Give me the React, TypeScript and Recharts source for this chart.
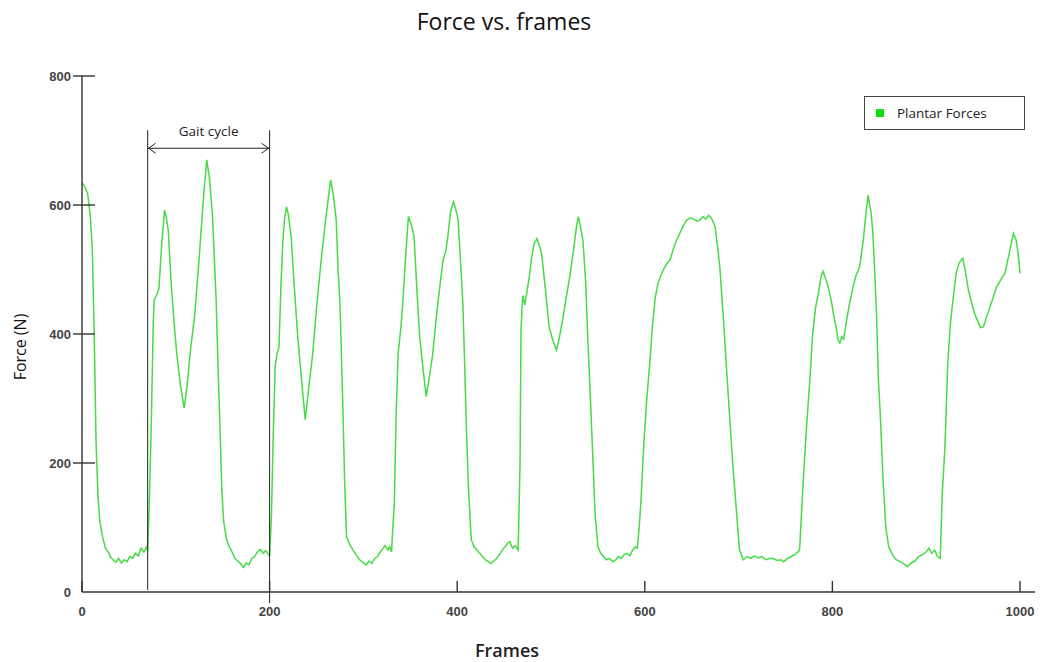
import { LineChart, Line, XAxis, YAxis, ReferenceLine, Legend } from "recharts";

const xTicks = [0, 200, 400, 600, 800, 1000];
const yTicks = [0, 200, 400, 600, 800];

// [frame, force], one list per stride
const stride0: [number, number][] = [
  [0, 635], [3, 628], [6, 618], [9, 580], [11, 530], [13, 400], [15, 230], [17, 150], [19, 110],
  [22, 85], [25, 68], [28, 62], [30, 55], [33, 50], [36, 46], [39, 52], [42, 45], [45, 50], [48, 47],
  [51, 55], [54, 52], [57, 60], [60, 56], [63, 68], [66, 62], [69, 70], [70, 64],
];
const stride1: [number, number][] = [
  [72, 150], [74, 272], [76, 420], [77, 453], [80, 462], [82, 470], [85, 540], [88, 592], [90, 580],
  [92, 560], [95, 480], [98, 420], [101, 370], [105, 320], [109, 285], [112, 320], [116, 380], [120, 427],
  [124, 500], [127, 560], [130, 620], [133, 670], [136, 640], [139, 585], [141, 520], [143, 453], [145, 350],
  [147, 260], [149, 160], [151, 110], [154, 82], [157, 70], [160, 62], [163, 52], [166, 48], [169, 44],
  [172, 38], [175, 45], [178, 42], [181, 52], [184, 55], [187, 62], [190, 66], [193, 60], [196, 64],
  [199, 58], [200, 55],
];
const stride2: [number, number][] = [
  [202, 120], [204, 250], [206, 350], [208, 370], [210, 380], [212, 470], [214, 541], [216, 580], [218, 597],
  [220, 585], [223, 551], [226, 480], [230, 396], [234, 330], [238, 267], [242, 320], [246, 370], [250, 440],
  [255, 515], [260, 580], [265, 639], [268, 615], [271, 577], [273, 500], [275, 448], [278, 293], [280, 170],
  [282, 86], [285, 75], [289, 65], [292, 58], [296, 50], [300, 45], [303, 42], [306, 48], [309, 44],
  [312, 52], [315, 55], [318, 62], [321, 68], [323, 72], [326, 65], [328, 70], [330, 62],
];
const stride3: [number, number][] = [
  [331, 90], [333, 138], [335, 280], [337, 370], [340, 410], [342, 448], [345, 520], [348, 582], [351, 570],
  [354, 551], [357, 470], [360, 396], [364, 340], [367, 303], [370, 330], [374, 370], [378, 430], [382, 480],
  [385, 515], [388, 530], [390, 551], [393, 590], [396, 605], [399, 590], [401, 577], [404, 500], [406, 448],
  [408, 350], [410, 246], [412, 160], [415, 81], [418, 70], [421, 65], [424, 60], [427, 55], [430, 50],
  [433, 47], [436, 44], [439, 48], [442, 52], [445, 58], [448, 65], [451, 70], [454, 76], [456, 78],
  [459, 68], [462, 72], [465, 65],
];
const stride4: [number, number][] = [
  [467, 200], [468, 401], [469, 440], [470, 460], [472, 445], [474, 462], [477, 490], [479, 515], [482, 540],
  [485, 548], [488, 535], [490, 525], [494, 470], [498, 411], [502, 390], [506, 375], [509, 395], [513, 427],
  [516, 455], [520, 489], [524, 530], [527, 565], [529, 582], [531, 570], [534, 546], [537, 480], [539, 401],
  [542, 300], [545, 194], [547, 120], [550, 70], [553, 60], [556, 55], [559, 50], [562, 52], [566, 47],
  [569, 50], [572, 55], [575, 52], [578, 58], [581, 60], [584, 56], [587, 65], [590, 70], [592, 68],
];
const stride5: [number, number][] = [
  [594, 100], [596, 143], [599, 230], [602, 298], [605, 349], [608, 410], [611, 455], [614, 478], [617, 490],
  [620, 500], [623, 508], [627, 515], [630, 530], [634, 546], [637, 555], [641, 568], [645, 577], [649, 580],
  [652, 578], [656, 575], [659, 577], [662, 582], [665, 578], [668, 584], [671, 580], [675, 566], [678, 530],
  [680, 504], [684, 420], [687, 349], [691, 260], [694, 194], [698, 120], [701, 65], [705, 50], [709, 55],
  [713, 52], [717, 56], [721, 53], [725, 55], [729, 50], [733, 52], [737, 52], [741, 49], [745, 50],
  [748, 47], [752, 52], [756, 55], [760, 58], [763, 62], [765, 65],
];
const stride6: [number, number][] = [
  [767, 120], [770, 200], [772, 246], [776, 330], [779, 401], [782, 440], [785, 463], [788, 490], [790, 497],
  [793, 485], [796, 470], [799, 450], [801, 432], [804, 410], [806, 391], [808, 386], [810, 396], [812, 392],
  [815, 420], [818, 445], [822, 473], [825, 490], [829, 504], [831, 525], [833, 546], [836, 590], [838, 615],
  [841, 590], [843, 561], [845, 500], [847, 432], [849, 330], [851, 277], [854, 174], [857, 100], [860, 70],
  [864, 58], [868, 50], [872, 47], [876, 44], [880, 39], [884, 45], [888, 48], [892, 55], [896, 58],
  [900, 62], [903, 68], [906, 60], [909, 65], [912, 55], [915, 52],
];
const stride7: [number, number][] = [
  [917, 150], [920, 225], [923, 355], [926, 420], [929, 458], [932, 495], [935, 510], [939, 517], [942, 495],
  [945, 468], [949, 445], [952, 430], [955, 420], [958, 410], [961, 411], [964, 425], [968, 442], [971, 455],
  [975, 473], [978, 480], [981, 488], [984, 494], [987, 515], [990, 535], [993, 556], [996, 545], [998, 525],
  [1000, 494],
];

const data = [stride0, stride1, stride2, stride3, stride4, stride5, stride6, stride7]
  .flat()
  .map(([frame, force]) => ({ frame, force }));

const AXIS = "#333";
const GREEN = "#45dc45";
const TICK_FONT = { fontSize: 13, fill: "#444", fontWeight: 700, fontFamily: "Liberation Sans, Arial" };

function YTick({ x, y, payload }: any) {
  return (
    <g>
      {payload.value !== 0 && <line x1={x - 9} x2={x + 13} y1={y} y2={y} stroke={AXIS} strokeWidth={1.4} />}
      <text x={x - 11} y={y} dy={4.5} textAnchor="end" {...TICK_FONT}>
        {payload.value}
      </text>
    </g>
  );
}

function XTick({ x, y, payload }: any) {
  return (
    <g>
      <line x1={x} x2={x} y1={y - 11} y2={y} stroke={AXIS} strokeWidth={1.4} />
      <text x={x} y={y + 24} textAnchor="middle" {...TICK_FONT}>
        {payload.value}
      </text>
    </g>
  );
}

function GaitArrow({ x1, y1, x2 }: any) {
  return (
    <g>
      <line x1={x1} y1={y1} x2={x2} y2={y1} stroke="#222" strokeWidth={1} />
      <polyline points={`${x1 + 8},${y1 - 5} ${x1 + 1},${y1} ${x1 + 8},${y1 + 5}`} fill="none" stroke="#222" />
      <polyline points={`${x2 - 8},${y1 - 5} ${x2 - 1},${y1} ${x2 - 8},${y1 + 5}`} fill="none" stroke="#222" />
      <text x={(x1 + x2) / 2} y={y1 - 12} textAnchor="middle" fontSize={13.5} fill="#222" fontFamily="Open Sans">
        Gait cycle
      </text>
    </g>
  );
}

function LegendBox() {
  return (
    <div
      style={{
        width: 159,
        height: 32,
        border: "1px solid #444",
        background: "#fff",
        display: "flex",
        alignItems: "center",
        fontFamily: "Open Sans",
        fontSize: 13.5,
        color: "#222",
      }}
    >
      <span style={{ width: 8, height: 8, background: "#11dd11", marginLeft: 11, marginRight: 13 }} />
      Plantar Forces
    </div>
  );
}

export default function App() {
  return (
    <div style={{ position: "absolute", left: 0, top: 0, width: 1041, height: 662, background: "#fff" }}>
      <div
        style={{
          position: "absolute",
          left: 0,
          top: 5,
          width: 1008,
          textAlign: "center",
          fontFamily: "Open Sans",
          fontSize: 23,
          color: "#111",
        }}
      >
        Force vs. frames
      </div>
      <div
        style={{
          position: "absolute",
          left: 20,
          top: 347,
          transform: "translate(-50%, -50%) rotate(-90deg)",
          fontFamily: "Open Sans",
          fontSize: 16,
          color: "#111",
          whiteSpace: "nowrap",
        }}
      >
        Force (N)
      </div>
      <div
        style={{
          position: "absolute",
          left: 0,
          top: 638,
          width: 1014,
          textAlign: "center",
          fontFamily: "Open Sans",
          fontWeight: 600,
          fontSize: 18,
          color: "#222",
        }}
      >
        Frames
      </div>
      <LineChart width={1041} height={662} data={data} margin={{ top: 76, right: 6, bottom: 10, left: 22 }}>
        <XAxis
          dataKey="frame"
          type="number"
          domain={[0, 1016]}
          ticks={xTicks}
          allowDataOverflow
          height={60}
          tickLine={false}
          tickSize={0}
          tickMargin={0}
          tick={<XTick />}
          axisLine={{ stroke: AXIS, strokeWidth: 1.4 }}
        />
        <YAxis
          type="number"
          domain={[0, 800]}
          ticks={yTicks}
          width={60}
          tickLine={false}
          tickSize={0}
          tickMargin={0}
          tick={<YTick />}
          axisLine={{ stroke: AXIS, strokeWidth: 1.4 }}
        />
        <Legend
          layout="vertical"
          verticalAlign="middle"
          align="center"
          content={() => <LegendBox />}
          wrapperStyle={{ left: 864, top: 96, width: 161, height: 34 }}
        />
        <Line
          type="linear"
          dataKey="force"
          name="Plantar Forces"
          stroke={GREEN}
          strokeWidth={1.5}
          dot={false}
          isAnimationActive={false}
        />
        <ReferenceLine segment={[{ x: 70, y: 3 }, { x: 70, y: 716 }]} stroke="#222" strokeWidth={1} ifOverflow="visible" />
        <ReferenceLine segment={[{ x: 200, y: -17 }, { x: 200, y: 716 }]} stroke="#222" strokeWidth={1} ifOverflow="visible" />
        <ReferenceLine segment={[{ x: 70, y: 688 }, { x: 200, y: 688 }]} ifOverflow="visible" shape={GaitArrow} />
      </LineChart>
    </div>
  );
}
